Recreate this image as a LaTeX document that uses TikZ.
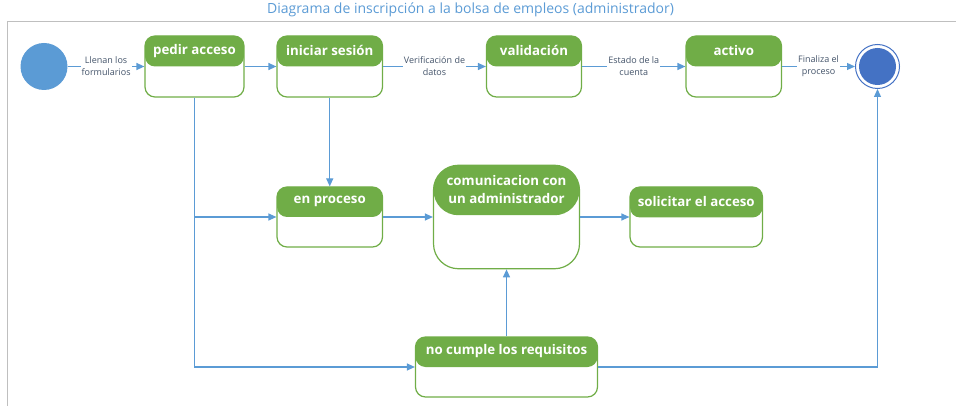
\documentclass[tikz,border=0pt]{standalone}
\usepackage{fontspec}
\setmainfont{Open Sans}
\usetikzlibrary{arrows.meta}
\definecolor{flecha}{HTML}{5B9BD5}
\definecolor{verde}{HTML}{70AD47}
\definecolor{textolbl}{HTML}{44546A}
\definecolor{fin}{HTML}{4472C4}
\definecolor{marco}{HTML}{BFBFBF}
\begin{document}
\begin{tikzpicture}[>={Triangle[length=8pt,width=7pt]},x=1pt,y=-1pt,
	estado/.style={draw=verde,line width=1.2pt,rounded corners=10pt,inner sep=0pt,
		path picture={\fill[verde] (path picture bounding box.north west) rectangle ([yshift=-#1]path picture bounding box.north east);}},
	estado/.default=30.5pt,
	cabecera/.style={text=white,font=\bfseries\fontsize{13.3}{18.5}\selectfont,align=center,inner sep=0pt},
	conector/.style={->,draw=flecha,line width=1.2pt},
	etiqueta/.style={fill=white,text=textolbl,font=\fontsize{9}{12}\selectfont,align=center,inner sep=1pt},
	titulo/.style={text=flecha,font=\fontsize{14}{17}\selectfont}]
		\useasboundingbox (0,0) rectangle (956,406);
		\draw[marco,line width=1pt] (7,406) -- (7,22) -- (956,22);
		\node[titulo] (titulo) at (470.5,10) {Diagrama de inscripción a la bolsa de empleos (administrador)};
		\node[circle,fill=flecha,minimum size=47pt,inner sep=0pt] (inicio) at (44,66.5) {};
		\node[circle,draw=fin,line width=1pt,minimum size=44pt,inner sep=0pt] (final) at (877.5,66.5) {};
		\node[circle,fill=fin,minimum size=37pt,inner sep=0pt] (finalin) at (final) {};
		\node[estado,minimum width=99pt,minimum height=61pt] (pedir) at (194.5,66.5) {};
		\node[estado,minimum width=105.5pt,minimum height=61pt] (iniciar) at (329.75,66.5) {};
		\node[estado,minimum width=95pt,minimum height=61pt] (validacion) at (534,66.5) {};
		\node[estado,minimum width=95.5pt,minimum height=61pt] (activo) at (733.75,66.5) {};
		\node[estado=30pt,minimum width=105.5pt,minimum height=60pt] (enproceso) at (329.75,217) {};
		\node[estado=50pt,rounded corners=25pt,minimum width=146pt,minimum height=103.5pt] (comunic) at (506.5,217) {};
		\node[estado,minimum width=132.5pt,minimum height=60pt] (solicitar) at (696.25,217) {};
		\node[estado=30pt,minimum width=182pt,minimum height=60pt] (nocumple) at (506.5,367) {};
		\node[cabecera] at ([yshift=-15.5pt]pedir.north) {pedir acceso};
		\node[cabecera] at ([yshift=-15.5pt]iniciar.north) {iniciar sesión};
		\node[cabecera] at ([yshift=-15.5pt]validacion.north) {validación};
		\node[cabecera] at ([yshift=-15.5pt]activo.north) {activo};
		\node[cabecera] at ([yshift=-15pt]enproceso.north) {en proceso};
		\node[cabecera] at ([yshift=-25pt]comunic.north) {comunicacion con\\un administrador};
		\node[cabecera] at ([yshift=-15pt]solicitar.north) {solicitar el acceso};
		\node[cabecera] at ([yshift=-15pt]nocumple.north) {no cumple los requisitos};
		\draw[conector] (inicio) -- node[etiqueta] {Llenan los\\formularios} (pedir);
		\draw[conector] (pedir) -- (iniciar);
		\draw[conector] (iniciar) -- node[etiqueta] {Verificación de\\datos} (validacion);
		\draw[conector] (validacion) -- node[etiqueta] {Estado de la\\cuenta} (activo);
		\draw[conector] (activo) -- node[etiqueta] {Finaliza el\\proceso} (final);
		\draw[conector] (pedir) |- (nocumple);
		\draw[conector] (pedir.south |- enproceso) -- (enproceso);
		\draw[conector] (iniciar) -- (enproceso);
		\draw[conector] (enproceso) -- (comunic);
		\draw[conector] (comunic) -- (solicitar);
		\draw[conector] (nocumple) -- (comunic);
		\draw[conector] (nocumple) -| (final);
	\end{tikzpicture}
\end{document}
